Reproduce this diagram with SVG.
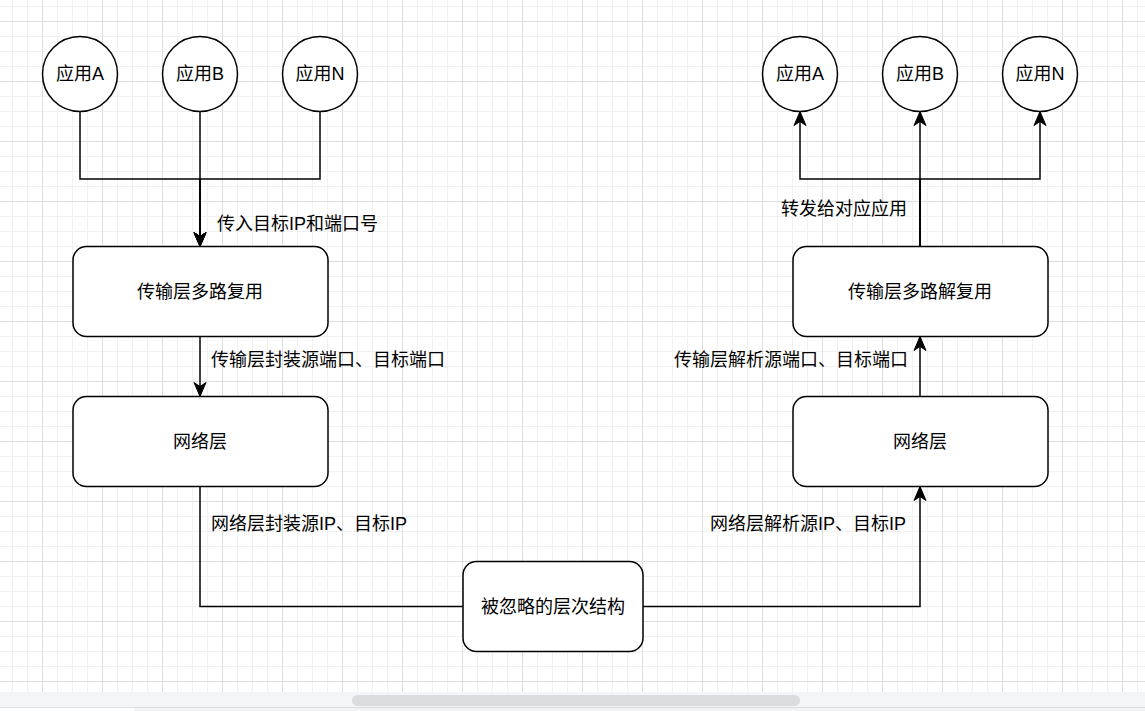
<svg xmlns="http://www.w3.org/2000/svg" width="1145" height="711" viewBox="0 0 1145 711">
<style>
.node{fill:#ffffff;stroke:#000000;stroke-width:1.5}
.edge{fill:none;stroke:#000000;stroke-width:1.5}
.arr{marker-end:url(#arrow)}
text{font-family:"Liberation Sans","Noto Sans CJK SC",sans-serif;font-size:18px;fill:#000000}
.c{text-anchor:middle}
.e{text-anchor:end}
</style>
<defs>
<pattern id="grid" x="42" y="21" width="60" height="60" patternUnits="userSpaceOnUse">
<rect x="0" y="0" width="60" height="60" fill="#ffffff"/>
<rect x="15" y="0" width="1" height="60" fill="#f1f1f1"/>
<rect x="30" y="0" width="1" height="60" fill="#f1f1f1"/>
<rect x="45" y="0" width="1" height="60" fill="#f1f1f1"/>
<rect x="0" y="15" width="60" height="1" fill="#f1f1f1"/>
<rect x="0" y="30" width="60" height="1" fill="#f1f1f1"/>
<rect x="0" y="45" width="60" height="1" fill="#f1f1f1"/>
<rect x="0" y="0" width="1" height="60" fill="#dedede"/>
<rect x="0" y="0" width="60" height="1" fill="#dedede"/>
</pattern>
<marker id="arrow" markerUnits="userSpaceOnUse" markerWidth="16" markerHeight="14" refX="14" refY="6" orient="auto" overflow="visible">
<path d="M14,6 L0,0 L4,6 L0,12 Z" fill="#000000" stroke="#000000" stroke-width="1"/>
</marker>
</defs>
<rect x="0" y="0" width="1145" height="692" fill="url(#grid)"/>
<rect x="0" y="692" width="1145" height="15" fill="#f4f5f6"/>
<rect x="352" y="695" width="448" height="11" rx="5.5" fill="#dadcdf"/>
<rect x="0" y="707" width="1145" height="1" fill="#dadce0"/>
<rect x="0" y="708" width="1145" height="3" fill="#f1f3f4"/>
<rect x="0" y="708" width="134" height="3" fill="#ffffff"/>

<g id="connectors">
<path class="edge arr" d="M80,111.5 V179 H200 V246.5"/>
<path class="edge arr" d="M320,111.5 V179 H200 V246.5"/>
<path class="edge arr" d="M200,111.5 V246.5"/>
<path class="edge arr" d="M200,336.5 V396.5"/>
<path class="edge" d="M200,486.5 V606.5 H463"/>
<path class="edge arr" d="M643,606.5 H920 V486.5"/>
<path class="edge arr" d="M920,396.5 V336.5"/>
<path class="edge arr" d="M920,246.5 V179 H800 V111.5"/>
<path class="edge arr" d="M920,246.5 V179 H1040 V111.5"/>
<path class="edge arr" d="M920,246.5 V111.5"/>
<text x="217" y="230">传入目标IP和端口号</text>
<text x="211" y="366">传输层封装源端口、目标端口</text>
<text x="211" y="530">网络层封装源IP、目标IP</text>
<text class="e" x="908" y="366">传输层解析源端口、目标端口</text>
<text class="e" x="906" y="530">网络层解析源IP、目标IP</text>
<text class="e" x="907" y="215">转发给对应应用</text>
</g>

<g id="appA-left"><circle class="node" cx="80" cy="74" r="37.5"/><text class="c" x="80" y="80">应用A</text></g>
<g id="appB-left"><circle class="node" cx="200" cy="74" r="37.5"/><text class="c" x="200" y="80">应用B</text></g>
<g id="appN-left"><circle class="node" cx="320" cy="74" r="37.5"/><text class="c" x="320" y="80">应用N</text></g>
<g id="appA-right"><circle class="node" cx="800" cy="74" r="37.5"/><text class="c" x="800" y="80">应用A</text></g>
<g id="appB-right"><circle class="node" cx="920" cy="74" r="37.5"/><text class="c" x="920" y="80">应用B</text></g>
<g id="appN-right"><circle class="node" cx="1040" cy="74" r="37.5"/><text class="c" x="1040" y="80">应用N</text></g>

<g id="transport-mux"><rect class="node" x="73" y="246.5" width="255" height="90" rx="13.5"/><text class="c" x="200" y="298">传输层多路复用</text></g>
<g id="network-left"><rect class="node" x="73" y="396.5" width="255" height="90" rx="13.5"/><text class="c" x="200" y="448">网络层</text></g>
<g id="transport-demux"><rect class="node" x="793" y="246.5" width="255" height="90" rx="13.5"/><text class="c" x="920" y="298">传输层多路解复用</text></g>
<g id="network-right"><rect class="node" x="793" y="396.5" width="255" height="90" rx="13.5"/><text class="c" x="920" y="448">网络层</text></g>
<g id="ignored-layers"><rect class="node" x="463" y="561.5" width="180" height="90" rx="13.5"/><text class="c" x="553" y="613">被忽略的层次结构</text></g>
</svg>
